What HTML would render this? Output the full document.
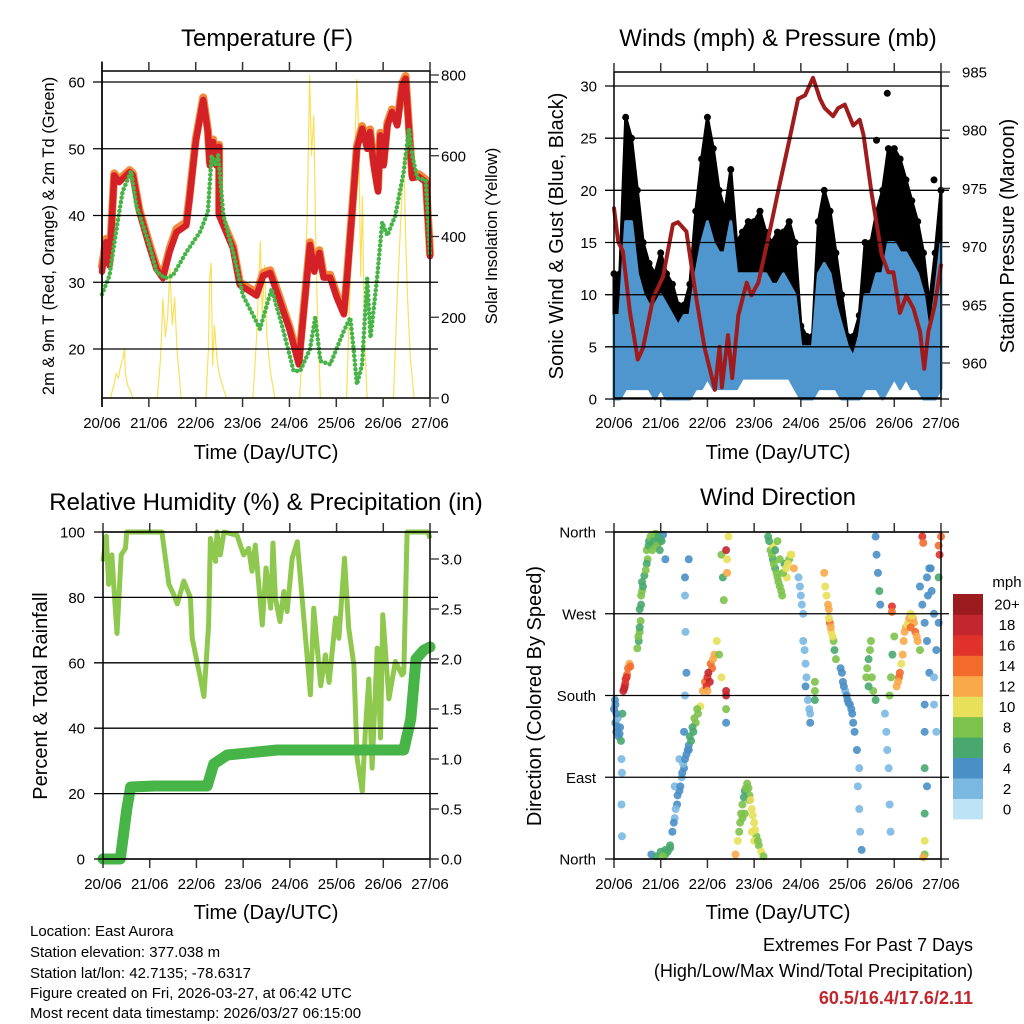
<!DOCTYPE html>
<html><head><meta charset="utf-8"><style>
html,body{margin:0;padding:0;background:#fff}
svg{display:block;font-family:"Liberation Sans",Arial,sans-serif}
</style></head><body>
<svg id="s" width="1024" height="1024" viewBox="0 0 1024 1024" xmlns="http://www.w3.org/2000/svg">
<rect width="1024" height="1024" fill="#fff"/>
<text x="267" y="46" font-size="24" text-anchor="middle">Temperature (F)</text>
<text x="778" y="46" font-size="24" text-anchor="middle">Winds (mph) &amp; Pressure (mb)</text>
<text x="266" y="510" font-size="24" text-anchor="middle">Relative Humidity (%) &amp; Precipitation (in)</text>
<text x="778" y="505" font-size="24" text-anchor="middle">Wind Direction</text>
<text transform="translate(54,236) rotate(-90)" font-size="16.5" text-anchor="middle">2m &amp; 9m T (Red, Orange) &amp; 2m Td (Green)</text>
<text transform="translate(497,236) rotate(-90)" font-size="16.5" text-anchor="middle">Solar Insolation (Yellow)</text>
<text transform="translate(563,236) rotate(-90)" font-size="20" text-anchor="middle">Sonic Wind &amp; Gust (Blue, Black)</text>
<text transform="translate(1014,236) rotate(-90)" font-size="20" text-anchor="middle">Station Pressure (Maroon)</text>
<text transform="translate(47,696) rotate(-90)" font-size="20" text-anchor="middle">Percent &amp; Total Rainfall</text>
<text transform="translate(541,696) rotate(-90)" font-size="20" text-anchor="middle">Direction (Colored By Speed)</text>
<text x="266" y="459" font-size="20" text-anchor="middle">Time (Day/UTC)</text>
<text x="778" y="459" font-size="20" text-anchor="middle">Time (Day/UTC)</text>
<text x="266" y="919" font-size="20" text-anchor="middle">Time (Day/UTC)</text>
<text x="778" y="919" font-size="20" text-anchor="middle">Time (Day/UTC)</text>
<g font-size="15">
<text x="30" y="936">Location: East Aurora</text>
<text x="30" y="957">Station elevation: 377.038 m</text>
<text x="30" y="978">Station lat/lon: 42.7135; -78.6317</text>
<text x="30" y="998">Figure created on Fri, 2026-03-27, at 06:42 UTC</text>
<text x="30" y="1018">Most recent data timestamp: 2026/03/27 06:15:00</text>
</g>
<text x="973" y="951" font-size="18" text-anchor="end">Extremes For Past 7 Days</text>
<text x="973" y="977" font-size="18" text-anchor="end">(High/Low/Max Wind/Total Precipitation)</text>
<text x="973" y="1004" font-size="18" font-weight="bold" fill="#c1272d" text-anchor="end">60.5/16.4/17.6/2.11</text>
</svg>
<script>
// ---------- DATA ----------
const dayLabels=["20/06","21/06","22/06","23/06","24/06","25/06","26/06","27/06"];
const tempT=[0,0.09,0.16,0.26,0.37,0.59,0.66,0.8,1.0,1.16,1.3,1.44,1.59,1.8,1.87,2.0,2.16,2.26,2.3,2.37,2.44,2.5,2.5,2.8,2.94,3.3,3.44,3.59,3.73,4.0,4.2,4.44,4.53,4.64,4.73,4.87,5.01,5.16,5.23,5.34,5.44,5.55,5.66,5.72,5.8,5.89,5.94,6.01,6.09,6.19,6.3,6.41,6.48,6.55,6.62,6.76,6.91,6.98,7.0];
const tempF=[31.6,36,32.5,46,45,46.5,46,40.5,35.6,32,30.6,34.5,37.5,38.5,42.6,51,57.3,52.5,47.5,51,47.5,50.3,40,35,29.6,28,31,31.4,28.5,23,17.7,35.6,31.6,34.4,30.7,30.7,27.7,25.2,30.7,40.6,50,53,50,52.5,47.5,43.6,52,47.5,53.5,55.5,53.5,59.5,60.5,53,45.6,45.8,45,36.6,33.9];
const temp9mF=[32.4,36.5,33,46.3,45.4,46.8,46.3,40.8,36,32.4,31,35,38,39,43,51.4,57.7,52.8,48,51.4,48,50.6,40.4,35.4,30,28.4,31.4,31.8,29,23.4,18.2,36,32,34.8,31.1,31.1,28.1,25.6,31.1,41,50.4,53.4,50.4,52.9,47.9,44,52.4,47.9,53.9,55.9,53.9,59.9,60.9,53.4,46,46.2,45.4,37,34.2];
const dewT=[0,0.16,0.3,0.44,0.62,0.73,1.01,1.16,1.34,1.51,1.8,2.09,2.26,2.34,2.41,2.48,2.59,2.8,3.01,3.23,3.37,3.62,3.84,4.09,4.23,4.44,4.55,4.66,4.87,5.16,5.3,5.37,5.44,5.55,5.66,5.73,5.87,5.98,6.09,6.26,6.44,6.55,6.62,6.73,6.91,7.0];
const dewF=[28.2,31,37.6,43.6,46.6,41.6,35.6,31.6,30.6,31,34.5,37.5,40.5,49,47.5,49,40,34.5,28,25,23,29,23.6,16.7,16.7,20,24.7,18.2,17.7,22.7,24.7,20,14.7,17.7,30.6,21.7,30.6,39,37,40,46.6,53,49,45.6,45.3,34];
const solarT=[0,0.18,0.25,0.3,0.35,0.4,0.45,0.48,0.5,0.55,0.6,0.66,1.18,1.25,1.3,1.35,1.4,1.45,1.5,1.55,1.6,1.69,2.22,2.27,2.3,2.33,2.36,2.4,2.45,2.5,2.6,2.66,3.22,3.3,3.38,3.42,3.47,3.52,3.6,3.69,4.22,4.3,4.38,4.43,4.47,4.52,4.56,4.6,4.66,5.22,5.3,5.38,5.44,5.48,5.52,5.56,5.6,5.66,6.22,6.3,6.4,6.44,6.48,6.52,6.58,6.66,7.0];
const solarW=[0,0,30,60,50,80,100,123,60,30,20,0,0,100,246,150,200,320,180,250,120,0,0,120,300,335,80,180,100,60,20,0,0,150,389,200,330,150,60,0,0,200,450,800,600,700,400,200,0,0,300,550,790,650,300,500,150,0,0,250,500,600,400,250,100,0,0];
const windT=[0,0.125,0.25,0.375,0.5,0.625,0.75,0.875,1,1.125,1.25,1.375,1.5,1.625,1.75,1.875,2,2.125,2.25,2.375,2.5,2.625,2.75,2.875,3,3.125,3.25,3.375,3.5,3.625,3.75,3.875,4,4.125,4.25,4.375,4.5,4.625,4.75,4.875,5,5.125,5.25,5.375,5.5,5.625,5.75,5.875,6,6.125,6.25,6.375,6.5,6.625,6.75,6.875,7];
const gustMax=[12,12,27,25,20,15,13,12,14,12,11,9,9,11,18,23,27,24,20,18,22,15,16,17,17,18,16,15,16,16,17,15,7,6,6,17,20,18,14,10,6,6,8,15,15,18,20,24,24,23,21,19,17,14,9,14,20];
const gustMin=[4,4,9,8,6,4,5,4,5,5,3,2,2,3,6,6,8,6,6,6,5,6,6,6,6,6,7,7,6,6,6,5,2,2,2,5,7,6,5,3,2,2,2,5,5,5,6,7,8,7,6,6,5,3,2,5,6];
const windMax=[8,8,17,17,12,10,9,9,10,9,8,7,8,8,12,15,17,15,14,14,17,12,12,12,12,12,12,11,11,12,11,10,5,5,5,12,13,12,9,7,5,4,6,10,10,12,12,15,15,14,14,13,12,10,6,10,15];
const windMin=[0,0,1,1,1,1,1,0,1,0,0,0,0,0,1,1,2,1,1,1,1,1,2,2,2,2,2,2,2,2,2,1,0,0,0,1,1,1,1,0,0,0,0,1,1,1,0,1,2,1,2,1,1,0,0,0,1];
const gustOutT=[5.85,5.62,5.85,6.85];
const gustOutV=[29.3,24.8,21.5,21];
const presT=[0,0.09,0.19,0.34,0.51,0.62,0.84,1.05,1.26,1.37,1.55,1.76,1.94,2.16,2.26,2.31,2.44,2.53,2.66,2.84,2.94,3.09,3.3,3.51,3.73,3.94,4.09,4.26,4.41,4.51,4.69,4.8,4.94,5.12,5.26,5.34,5.51,5.73,5.87,5.98,6.12,6.26,6.41,6.55,6.64,6.73,6.87,7.0];
const presMb=[973.3,970.4,969.6,964.4,960.3,961.3,965.6,967.4,971.9,972.1,971.3,965.6,961.3,957.7,961.4,957.9,962.4,958.7,964.1,966.9,965.8,966.9,970.7,974.7,978.7,982.7,983,984.5,982.7,981.9,981.2,981.9,982.2,980.4,980.9,979.6,974.7,969.3,967.8,967.8,964.3,965.8,964.7,962.7,959.5,962.7,965,968.4];
const rhT=[0,0.07,0.12,0.19,0.23,0.3,0.39,0.48,0.51,1.26,1.41,1.51,1.59,1.73,1.87,1.91,2.09,2.16,2.26,2.3,2.41,2.44,2.51,2.59,2.87,3.01,3.12,3.19,3.26,3.41,3.49,3.59,3.64,3.69,3.79,3.87,3.94,4.05,4.16,4.44,4.51,4.66,4.76,4.84,4.98,5.05,5.17,5.26,5.37,5.44,5.55,5.62,5.69,5.76,5.87,5.94,5.99,6.12,6.26,6.4,6.44,6.51,6.96,7.0];
const rhPct=[91,98.7,84,93,84,69,93,95,100,100,84,81,78,85,80,67.5,55,49.7,71.6,98,91,100,93,100,99,93,95,88,96,71.6,89,76.7,96.6,79.8,72.6,81.8,75.7,92,97,50.2,76.7,53,62.4,54,73.7,67.5,92,70.6,59.4,30.8,20.6,40,55,27.8,64.5,37,74.7,49,60.4,56.3,57,100,100,98];
const rainT=[0,0.37,0.51,0.59,1.1,2.23,2.37,2.66,3.73,6.44,6.59,6.7,6.87,7.0];
const rainIn=[0,0,0.5,0.72,0.73,0.73,0.95,1.04,1.09,1.09,1.4,2.0,2.09,2.12];
const dirT=[0,0.03,0.05,0.08,0.1,0.13,0.15,0.18,0.16,0.17,0.16,0.17,0.2,0.23,0.25,0.28,0.3,0.33,0.35,0.5,0.53,0.55,0.57,0.55,0.58,0.6,0.65,0.7,0.75,0.8,0.85,0.9,0.95,1.0,1.05,1.1,1.52,1.52,1.53,1.52,1.55,1.6,0.8,0.9,1.0,1.1,1.2,1.25,1.3,1.35,1.4,1.45,1.5,1.55,1.6,1.65,1.7,1.75,1.8,1.85,1.3,1.4,1.5,1.6,1.9,1.95,2.0,2.05,2.1,2.15,2.2,2.25,2.3,2.4,2.4,2.4,2.4,2.3,2.33,2.4,2.42,2.45,2.42,2.35,2.6,2.65,2.7,2.75,2.8,2.85,2.9,2.95,3.0,3.05,3.1,3.15,3.2,2.8,2.9,3.0,3.3,3.35,3.4,3.45,3.5,3.55,3.6,3.65,3.7,3.75,3.8,3.85,3.4,3.5,3.95,4.0,4.05,4.05,4.1,4.1,4.15,4.2,4.2,4.3,4.3,4.3,4.5,4.55,4.6,4.62,4.65,4.7,4.72,4.75,4.85,4.9,4.95,5.0,5.05,5.1,5.15,5.2,5.25,5.22,5.25,5.27,5.3,5.4,5.45,5.5,5.55,5.6,5.6,5.62,5.65,5.68,5.7,5.95,5.95,5.8,5.83,5.85,5.88,5.9,5.92,5.9,5.93,5.96,6.0,6.05,6.1,6.15,6.2,6.25,6.3,6.35,6.4,6.45,6.5,6.55,6.55,6.6,6.65,6.7,6.75,6.65,6.65,6.65,6.7,6.65,6.65,6.65,6.62,6.6,6.62,6.95,6.97,7.0,6.75,6.8,6.85,6.95,6.9,6.85,6.85,6.9,6.95,
0.72,0.74,0.78,0.82,0.86,0.88,0.92,0.95,0.98,1.02,0.7,0.68,0.58,0.6,0.62,0.52,0.55,0.24,0.27,0.22,0.05,0.07,0.12,0.03,0.02,
1.28,1.32,1.36,1.42,1.46,1.48,1.52,1.58,1.62,1.68,1.72,1.78,1.1,1.15,1.2,1.05,1.98,2.02,2.07,2.12,2.0,
2.68,2.72,2.78,2.82,2.88,2.92,2.97,3.02,3.08,2.75,2.95,3.32,3.38,3.42,3.48,3.52,3.58,3.62,3.68,3.72,3.78,3.45,3.55,
3.98,4.02,4.08,4.12,4.18,4.52,4.58,4.64,4.68,4.6,4.88,4.92,4.98,5.02,5.08,5.12,5.42,5.48,5.52,5.45,
6.08,6.12,6.18,6.22,6.28,6.32,6.38,6.42,6.48,6.35,6.7,6.72,6.78];
const dirDeg=[165,150,140,155,135,145,130,160,110,95,60,25,185,190,198,203,210,215,212,232,240,250,262,275,290,305,312,340,350,345,355,358,348,352,357,330,310,290,250,180,205,330,5,3,8,10,15,30,45,60,75,90,100,115,125,130,140,150,160,168,80,110,140,120,185,195,200,195,210,225,240,225,200,180,185,165,150,335,310,340,330,355,315,285,5,20,40,60,75,83,70,55,40,25,15,8,3,50,65,20,355,340,330,320,310,300,290,325,310,330,335,320,345,350,310,290,270,240,215,190,175,160,150,175,185,195,315,290,275,260,250,240,230,220,210,195,185,175,170,160,140,120,100,80,55,30,10,200,220,240,185,175,355,335,315,295,280,278,272,160,140,120,100,60,30,180,200,225,245,190,200,215,240,255,260,270,265,250,240,230,300,280,260,240,205,170,140,100,80,50,20,5,2,355,348,345,335,355,320,295,270,260,230,200,170,140,310,
330,345,355,340,350,358,345,355,340,350,325,318,280,295,300,245,255,193,200,188,160,145,138,170,175,
40,55,70,80,95,105,110,120,135,145,155,165,5,8,12,3,190,205,215,220,185,
30,50,68,78,78,65,48,32,20,45,30,350,335,325,315,305,295,315,320,325,335,340,330,
300,280,230,200,165,300,280,255,245,265,205,190,180,172,165,150,210,230,200,190,
195,205,225,250,258,265,268,260,245,255,310,290,320];
const dirSpd=[4,3,4,2,4,3,5,6,1,2,1,2,17,16,15,14,13,12,14,7,6,8,7,6,7,6,5,7,6,8,6,7,5,6,4,4,3,2,2,2,3,4,4,6,5,6,6,3,2,3,4,2,3,3,4,5,6,7,8,10,2,2,3,4,12,14,16,18,14,12,10,8,10,18,17,7,4,7,6,17,10,10,12,8,12,10,7,8,6,7,8,10,9,8,7,10,8,7,6,9,6,7,6,5,8,7,8,6,10,8,10,11,9,7,2,2,1,2,2,3,2,2,3,6,7,8,11,10,12,14,10,8,6,7,4,3,2,3,4,3,4,3,2,2,1,2,3,7,6,8,7,6,4,3,4,5,4,16,13,2,2,2,2,2,2,7,8,6,7,12,14,10,11,12,10,9,12,14,11,8,4,3,4,3,4,3,4,6,4,5,10,8,12,15,13,14,15,13,4,3,4,3,4,2,2,1,6,
7,6,8,7,6,7,8,6,5,6,6,7,6,7,6,7,6,16,15,17,4,3,4,4,3,
3,2,3,4,3,2,3,4,5,6,7,8,6,6,5,7,15,17,14,12,12,
8,7,6,7,7,9,10,9,8,8,9,6,7,7,8,7,7,8,9,10,9,6,7,
2,2,2,2,2,10,11,12,9,10,4,3,4,3,4,3,7,7,8,6,
12,13,11,12,10,11,10,11,12,13,4,4,3];
const speedLabels=["0","2","4","6","8","10","12","14","16","18","20+"];
const speedColors=["#bde3f7","#7ab8e2","#4a8fc6","#48a86d","#7dc24b","#e8e05a","#f8a94a","#f26b2c","#e0322b","#c1272d","#9b1b1e"];

// ---------- HELPERS ----------
const NS="http://www.w3.org/2000/svg";
const svg=document.getElementById('s');
function mk(tag,attrs,parent){const e=document.createElementNS(NS,tag);for(const k in attrs)e.setAttribute(k,attrs[k]);(parent||svg).appendChild(e);return e;}
function lin(d0,d1,r0,r1){return v=>r0+(v-d0)*(r1-r0)/(d1-d0);}
function pts(xs,ys,fx,fy){return xs.map((t,i)=>fx(t).toFixed(1)+','+fy(ys[i]).toFixed(1)).join(' ');}

function frame(name,L,R,T,B,fx){
  const g=mk('g',{});
  
  
  mk('rect',{x:L,y:T,width:R-L,height:B-T,fill:'none',stroke:'#000','stroke-width':1.5},g);
  for(let d=0;d<8;d++){
    const x=fx(d);
    const tk=mk('line',{x1:x,y1:B,x2:x,y2:B+9,stroke:'#333','stroke-width':1.5},g);
    
    
    mk('line',{x1:x,y1:T,x2:x,y2:T-9,stroke:'#333','stroke-width':1.5},g);
    const lb=mk('text',{x:x,y:B+30,'font-size':15,'text-anchor':'middle'},g);
    lb.textContent=dayLabels[d];
    
    
  }
  return g;
}
function yAxis(vals,labels,fy,x,side,L,R,grid){
  vals.forEach((v,i)=>{
    const y=fy(v);
    if(grid){const gl=mk('line',{x1:L-9,y1:y,x2:R+8,y2:y,stroke:'#000','stroke-width':1.3});
      
      }
    else{mk('line',{x1:side==='l'?L-9:R,y1:y,x2:side==='l'?L:R+9,y2:y,stroke:'#333','stroke-width':1.3});}
    const t=mk('text',{x:x,y:y+5.5,'font-size':15,'text-anchor':side==='l'?'end':'start'});
    t.textContent=labels[i];
    
    
  });
}

// ---------- PANEL 1: Temperature ----------
(function(){
  const L=102,R=430,T=71,B=398;
  const fx=lin(0,7,L,R), fy=lin(20,60,349,82), fs=lin(0,800,398,75);
  const sol=mk('polyline',{points:pts(solarT,solarW,fx,fs),fill:'none',stroke:'#f8e05a','stroke-width':1.2});
  
  
  const o=mk('polyline',{points:pts(tempT,temp9mF,fx,fy),fill:'none',stroke:'#f38a3a','stroke-width':8,'stroke-linejoin':'round','stroke-linecap':'round'});
  
  
  const r=mk('polyline',{points:pts(tempT,tempF,fx,fy),fill:'none',stroke:'#d42127','stroke-width':6.5,'stroke-linejoin':'round','stroke-linecap':'round'});
  
  
  const g=mk('polyline',{points:pts(dewT,dewF,fx,fy),fill:'none',stroke:'#46b446','stroke-width':4.5,'stroke-dasharray':'0 4.5','stroke-linecap':'round','stroke-linejoin':'round'});
  
  
  frame('temperature',L,R,T,B,fx);
  yAxis([20,30,40,50,60],["20","30","40","50","60"],fy,85,'l',L,R,true);
  mk('line',{x1:L,y1:61.5,x2:L,y2:407,stroke:'#000','stroke-width':1.5});
  yAxis([0,200,400,600,800],["0","200","400","600","800"],fs,441,'r',L,R,false);
})();

// ---------- PANEL 2: Winds ----------
(function(){
  const L=614,R=941,T=72,B=398;
  const fx=lin(0,7,L,R), fy=lin(0,30,399,86), fp=lin(960,985,363,72);
  function band(maxA,minA,col,name){
    const top=windT.map((t,i)=>fx(t).toFixed(1)+','+fy(maxA[i]).toFixed(1));
    const bot=windT.map((t,i)=>fx(t).toFixed(1)+','+fy(minA[i]).toFixed(1)).reverse();
    const p=mk('polygon',{points:top.concat(bot).join(' '),fill:col,stroke:col,'stroke-width':3,'stroke-linejoin':'round'});
    
    
  }
  band(gustMax,gustMin,'#000','gust-band');
  windT.forEach((t,i)=>{
    const c=mk('circle',{cx:fx(t),cy:fy(gustMax[i]),r:3.5,fill:'#000'});
    
    
  });
  gustOutT.forEach((t,i)=>{
    const c=mk('circle',{cx:fx(t),cy:fy(gustOutV[i]),r:3.5,fill:'#000'});
    
    
  });
  band(windMax,windMin,'#4f96cf','wind-band');
  const pl=mk('polyline',{points:pts(presT,presMb,fx,fp),fill:'none',stroke:'#a01c1c','stroke-width':4,'stroke-linejoin':'round','stroke-linecap':'round'});
  
  
  frame('winds',L,R,T,B,fx);
  yAxis([0,5,10,15,20,25,30],["0","5","10","15","20","25","30"],fy,597,'l',L,R,true);
  yAxis([960,965,970,975,980,985],["960","965","970","975","980","985"],fp,962,'r',L,R,false);
})();

// ---------- PANEL 3: RH & Rain ----------
(function(){
  const L=103,R=430,T=532,B=859;
  const fx=lin(0,7,L,R), fy=lin(0,100,859,532), fr=lin(0,3,859,559);
  const rh=mk('polyline',{points:pts(rhT,rhPct,fx,fy),fill:'none',stroke:'#8fc84f','stroke-width':5,'stroke-linejoin':'round'});
  
  
  const rn=mk('polyline',{points:pts(rainT,rainIn,fx,fr),fill:'none',stroke:'#46b446','stroke-width':11,'stroke-linejoin':'round','stroke-linecap':'round'});
  
  
  frame('humidity',L,R,T,B,fx);
  yAxis([0,20,40,60,80,100],["0","20","40","60","80","100"],fy,85,'l',L,R,true);
  yAxis([0,0.5,1,1.5,2,2.5,3],["0.0","0.5","1.0","1.5","2.0","2.5","3.0"],fr,441,'r',L,R,false);
})();

// ---------- PANEL 4: Wind direction ----------
(function(){
  const L=614,R=941,T=532,B=859;
  const fx=lin(0,7,L,R), fy=lin(0,360,859,532);
  dirT.forEach((t,i)=>{
    const idx=Math.min(10,Math.max(0,Math.round(dirSpd[i]/2)));
    const c=mk('circle',{cx:fx(t),cy:fy(dirDeg[i]),r:4,fill:speedColors[idx],'fill-opacity':0.9});
    
    
  });
  frame('direction',L,R,T,B,fx);
  yAxis([0,90,180,270,360],["North","East","South","West","North"],fy,596,'l',L,R,true);
  const cb=mk('g',{});
  
  
  const h=225/11;
  const lt=mk('text',{x:1007,y:587,'font-size':15,'text-anchor':'middle'},cb);
  lt.textContent='mph';
  
  
  for(let k=0;k<11;k++){
    const y=594+(10-k)*h;
    const r=mk('rect',{x:953,y:y,width:30,height:h+0.4,fill:speedColors[k]},cb);
    
    
    const t=mk('text',{x:1007,y:y+h/2+5.5,'font-size':15,'text-anchor':'middle'},cb);
    t.textContent=speedLabels[k];
    
    
  }
})();
</script>
</body></html>
